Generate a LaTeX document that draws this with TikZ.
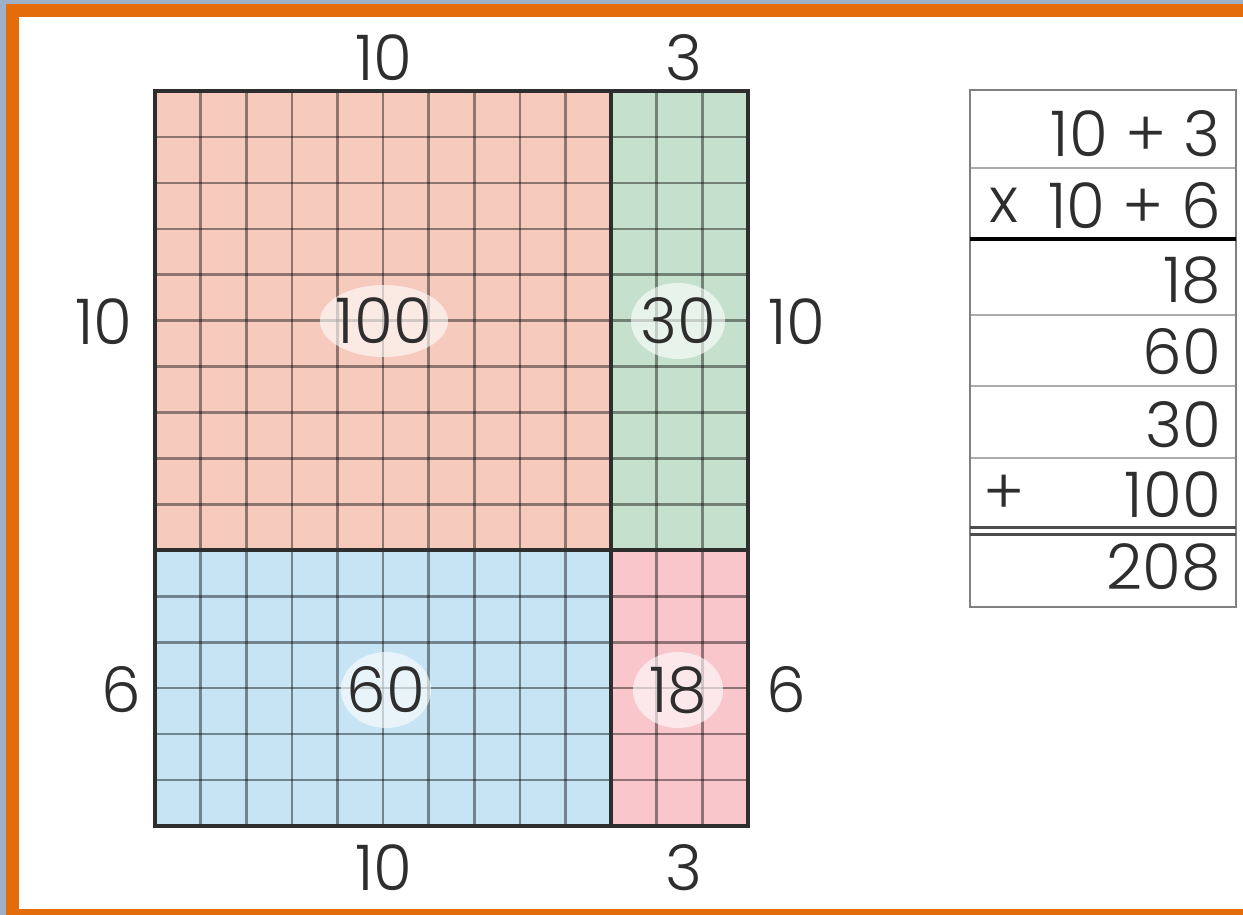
\documentclass[tikz,border=0pt]{standalone}
\usepackage{fontspec}
\setmainfont{Poppins Light}
\definecolor{bgblue}{HTML}{9DB0C8}
\definecolor{frame}{HTML}{E46C0B}
\definecolor{salmon}{HTML}{F6CABC}
\definecolor{mint}{HTML}{C5E1CE}
\definecolor{sky}{HTML}{C6E4F4}
\definecolor{rose}{HTML}{F9C6CC}
\definecolor{ink}{HTML}{2E2E2E}
\definecolor{tline}{HTML}{ABABAB}
\tikzset{
  lab/.style={inner sep=0pt, text=ink, font=\fontsize{63}{70}\selectfont},
  gridline/.style={draw=black, opacity=0.42, line width=2.6pt},
  border/.style={draw=ink, line width=3.6pt},
  halo/.style={fill=white, opacity=0.6},
  tthin/.style={draw=tline, line width=2.2pt},
  touter/.style={draw=black!50, line width=2.4pt},
}
\begin{document}
\begin{tikzpicture}[x=1pt,y=-1pt]
\useasboundingbox (0,0) rectangle (1243,915);
% frame
\fill[bgblue] (0,0) rectangle (1243,915);
\fill[frame] (6,4) rectangle (1243,915);
\fill[white] (19,17) rectangle (1243,909);
% regions
\fill[salmon] (155,91) rectangle (611,550);
\fill[mint] (611,91) rectangle (748,550);
\fill[sky] (155,550) rectangle (611,826);
\fill[rose] (611,550) rectangle (748,826);
% grid lines
\foreach \i in {1,...,12} {
  \draw[gridline] ({155+\i*45.615},91) -- ({155+\i*45.615},826);
}
\foreach \j in {1,...,15} {
  \draw[gridline] (155,{91+\j*45.9375}) -- (748,{91+\j*45.9375});
}
% borders
\draw[border] (155,91) rectangle (748,826);
\draw[border] (611,91) -- (611,826);
\draw[border] (155,550) -- (748,550);
% halos
\fill[halo] (384,321) ellipse [x radius=64, y radius=36];
\fill[halo] (678,321) ellipse [x radius=47, y radius=38];
\fill[halo] (386,690) ellipse [x radius=45, y radius=38];
\fill[halo] (678,690) ellipse [x radius=45, y radius=38];
% area labels
\node[lab] (a100) at (384,321) {100};
\node[lab] (a30) at (678,321) {30};
\node[lab] (a60) at (386,690) {60};
\node[lab] (a18) at (678,690) {18};
% side labels
\node[lab] (t10) at (384,58) {10};
\node[lab] (t3) at (684,58) {3};
\node[lab] (l10) at (104,322) {10};
\node[lab] (l6) at (121,690) {6};
\node[lab] (r10) at (797,322) {10};
\node[lab] (r6) at (786,690) {6};
\node[lab] (b10) at (384,868) {10};
\node[lab] (b3) at (684,868) {3};
% table
\fill[white] (970,90) rectangle (1236,607);
\draw[tthin] (970,168) -- (1236,168);
\draw[tthin] (970,315) -- (1236,315);
\draw[tthin] (970,386) -- (1236,386);
\draw[tthin] (970,458) -- (1236,458);
\draw[touter] (970,90) rectangle (1236,607);
\draw[draw=black, line width=3.2pt] (970,239) -- (1236,239);
\draw[draw=black!70, line width=3pt] (970,527) -- (1236,527);
\draw[draw=black!70, line width=3pt] (970,534) -- (1236,534);
\node[lab, anchor=east] (r1) at (1221,134) {10 + 3};
\node[lab, anchor=east] (r2) at (1221,206) {10 + 6};
\node[lab] (sx) at (1004,205) {x};
\node[lab, anchor=east] (r3) at (1221,280) {18};
\node[lab, anchor=east] (r4) at (1221,352) {60};
\node[lab, anchor=east] (r5) at (1221,425) {30};
\node[lab, anchor=east] (r6b) at (1221,495) {100};
\node[lab] (sp) at (1004,495) {+};
\node[lab, anchor=east] (r7) at (1221,567) {208};
\end{tikzpicture}
\end{document}
